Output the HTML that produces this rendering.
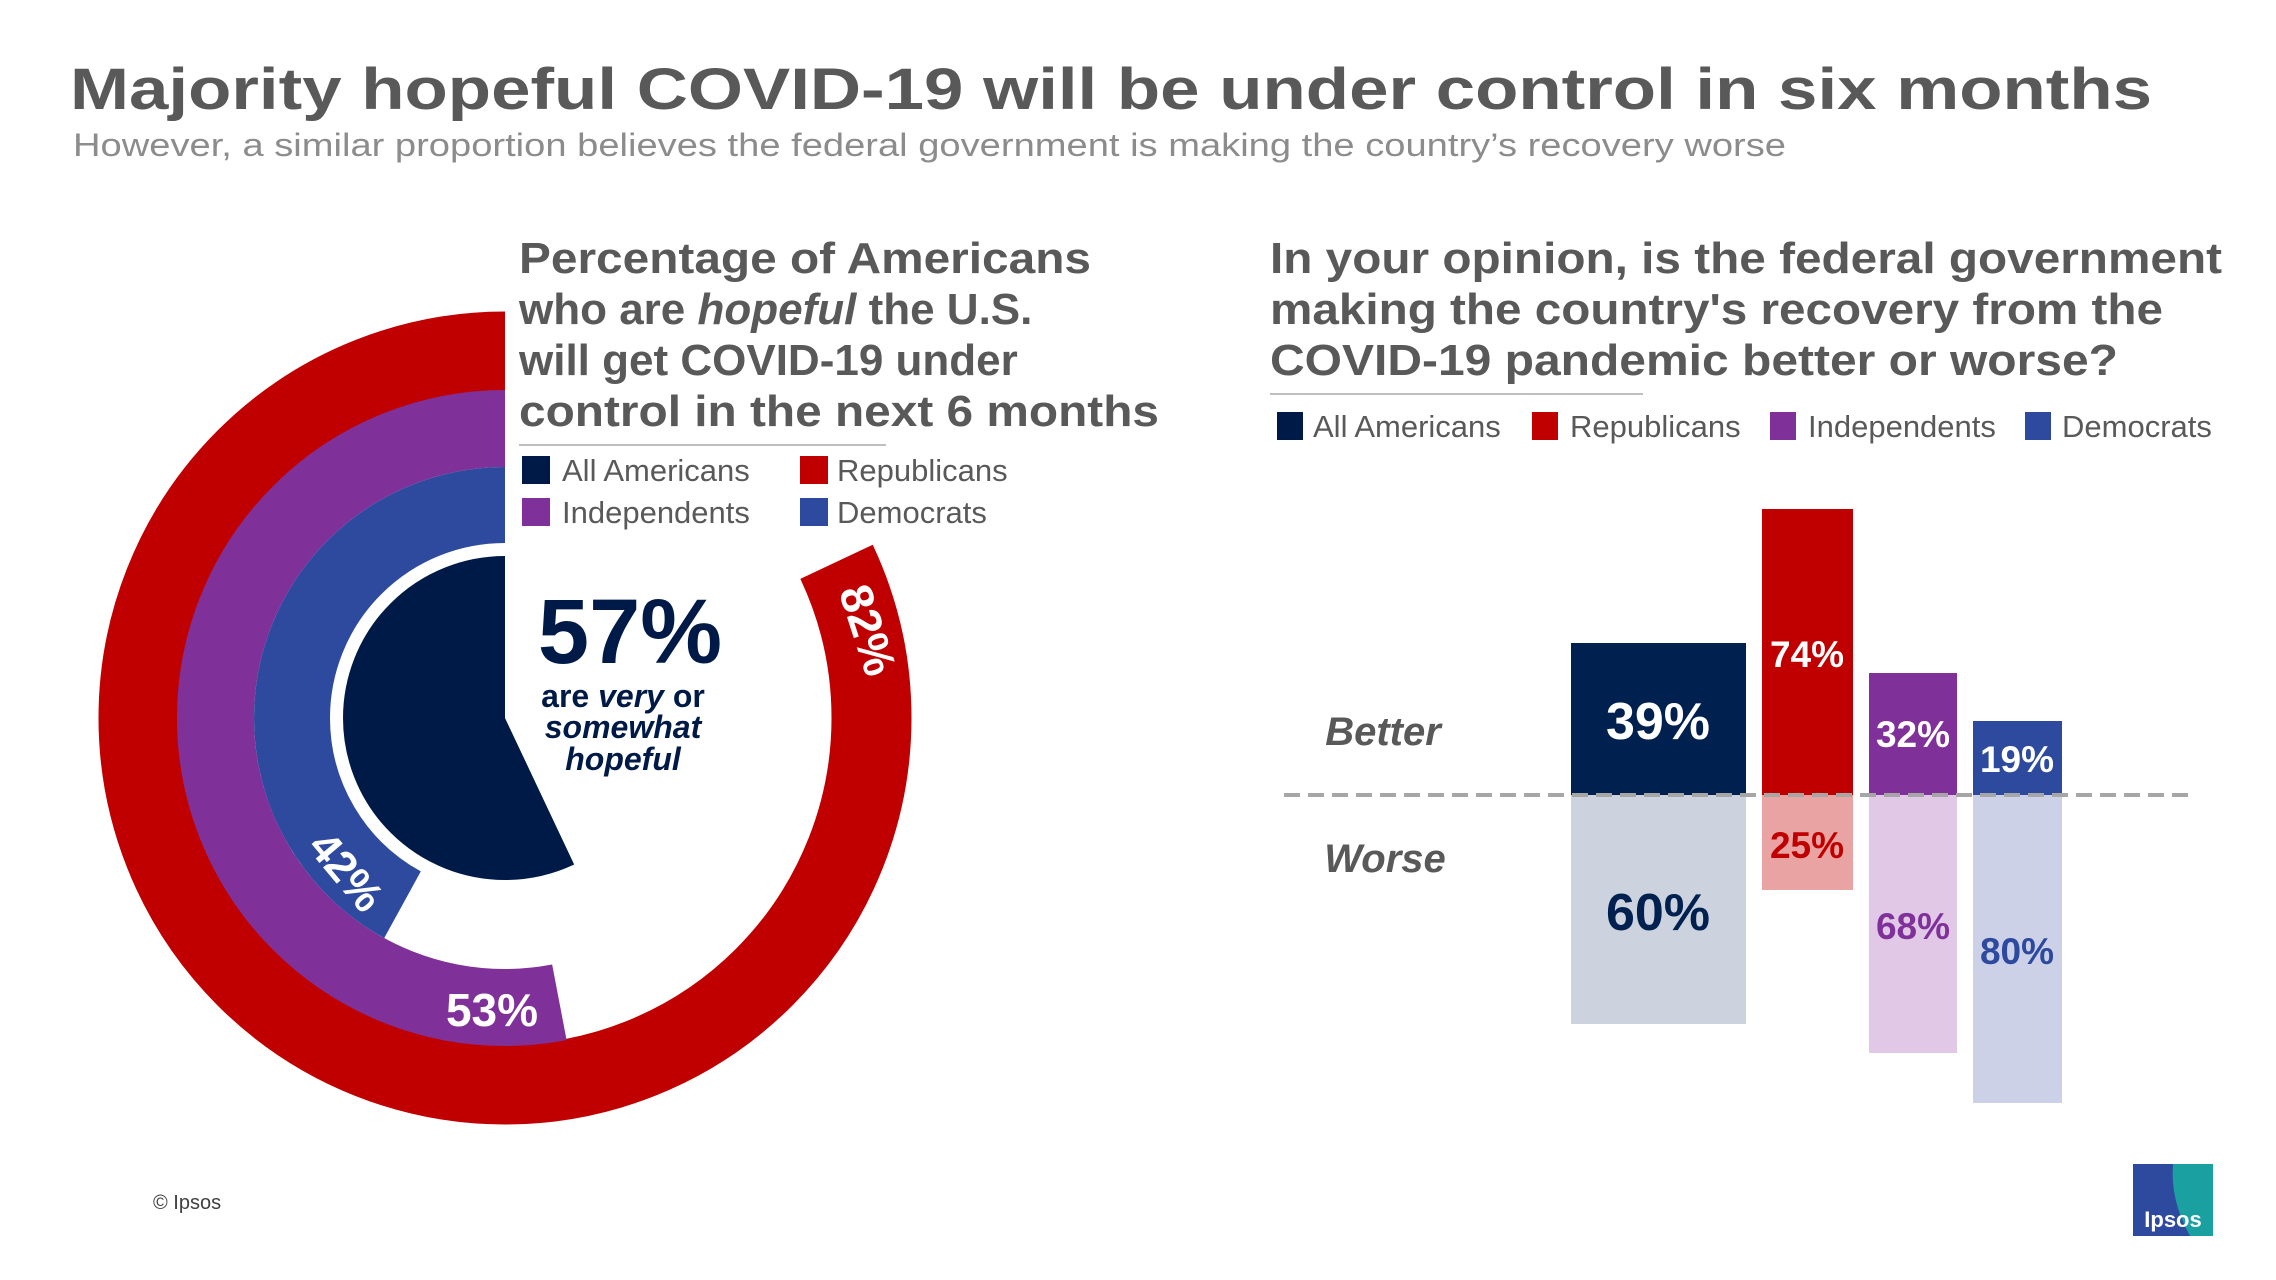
<!DOCTYPE html>
<html><head><meta charset="utf-8"><style>html,body{margin:0;padding:0;background:#fff}svg{display:block}</style></head>
<body>
<svg width="2276" height="1280" viewBox="0 0 2276 1280" xmlns="http://www.w3.org/2000/svg" font-family="Liberation Sans, Arial, sans-serif">
<text x="70" y="109" font-size="58" font-weight="bold" fill="#595959" textLength="2082" lengthAdjust="spacingAndGlyphs">Majority hopeful COVID-19 will be under control in six months</text>
<text x="73" y="156" font-size="32" fill="#8c8c8c" textLength="1713" lengthAdjust="spacingAndGlyphs">However, a similar proportion believes the federal government  is making  the country’s recovery worse</text>

<!-- Donut -->
<g transform="translate(505,718) rotate(-90) scale(1,-1)" fill="none">
<circle r="366.5" stroke="#c00000" stroke-width="80" stroke-dasharray="1888.3 3000"/>
<circle r="289.5" stroke="#7f3199" stroke-width="77" stroke-dasharray="964.1 3000"/>
<circle r="213" stroke="#2e4a9e" stroke-width="76" stroke-dasharray="562.1 3000"/>
<circle r="81" stroke="#fff" stroke-width="178" stroke-dasharray="0 0"/>
<circle r="81" stroke="#001a47" stroke-width="162" stroke-dasharray="290.1 3000"/>
</g>
<rect x="505" y="300" width="420" height="240" fill="#fff"/>
<text x="630" y="663" text-anchor="middle" font-size="92" font-weight="bold" fill="#001a47">57%</text>
<text x="623" y="707" text-anchor="middle" font-size="32" font-weight="bold" fill="#001a47">are <tspan font-style="italic">very</tspan> or</text>
<text x="623" y="738" text-anchor="middle" font-size="32" font-weight="bold" font-style="italic" fill="#001a47">somewhat</text>
<text x="623" y="770" text-anchor="middle" font-size="32" font-weight="bold" font-style="italic" fill="#001a47">hopeful</text>
<text transform="translate(868,630) rotate(72)" text-anchor="middle" dy="16" font-size="46" font-weight="bold" fill="#fff">82%</text>
<text transform="translate(347,871) rotate(50)" text-anchor="middle" dy="16" font-size="44" font-weight="bold" fill="#fff">42%</text>
<text x="492" y="1026" text-anchor="middle" font-size="46" font-weight="bold" fill="#fff">53%</text>

<!-- Left heading -->
<g font-size="44" font-weight="bold" fill="#595959">
<text x="519" y="273" textLength="572" lengthAdjust="spacingAndGlyphs">Percentage of Americans</text>
<text x="519" y="324">who are <tspan font-style="italic">hopeful</tspan> the U.S.</text>
<text x="519" y="375">will get COVID-19 under</text>
<text x="519" y="426" textLength="640" lengthAdjust="spacingAndGlyphs">control in the next 6 months</text>
</g>
<rect x="519" y="444" width="367" height="2" fill="#bfbfbf"/>
<g font-size="31" fill="#595959">
<rect x="522" y="456" width="28" height="28" fill="#001a47"/><text x="562" y="481">All Americans</text>
<rect x="800" y="456" width="28" height="28" fill="#c00000"/><text x="837" y="481">Republicans</text>
<rect x="522" y="498" width="28" height="28" fill="#7f3199"/><text x="562" y="523">Independents</text>
<rect x="800" y="498" width="28" height="28" fill="#2e4a9e"/><text x="837" y="523">Democrats</text>
</g>

<!-- Right heading -->
<g font-size="44" font-weight="bold" fill="#595959">
<text x="1270" y="273" textLength="952" lengthAdjust="spacingAndGlyphs">In your opinion, is the federal government</text>
<text x="1270" y="324" textLength="893" lengthAdjust="spacingAndGlyphs">making the country's recovery from the</text>
<text x="1270" y="375" textLength="848" lengthAdjust="spacingAndGlyphs">COVID-19 pandemic better or worse?</text>
</g>
<rect x="1270" y="393" width="373" height="2" fill="#bfbfbf"/>
<g font-size="31" fill="#595959">
<rect x="1277" y="412" width="26" height="28" fill="#001a47"/><text x="1313" y="437">All Americans</text>
<rect x="1532" y="412" width="26" height="28" fill="#c00000"/><text x="1570" y="437">Republicans</text>
<rect x="1770" y="412" width="26" height="28" fill="#7f3199"/><text x="1808" y="437">Independents</text>
<rect x="2025" y="412" width="26" height="28" fill="#2e4a9e"/><text x="2062" y="437">Democrats</text>
</g>

<!-- Bars -->
<rect x="1571" y="643" width="175" height="152" fill="#002050"/>
<rect x="1571" y="795" width="175" height="229" fill="#cdd3de"/>
<rect x="1762" y="509" width="91" height="286" fill="#c00000"/>
<rect x="1762" y="795" width="91" height="95" fill="#eaa3a3"/>
<rect x="1869" y="673" width="88" height="122" fill="#7f3199"/>
<rect x="1869" y="795" width="88" height="258" fill="#e0c8e6"/>
<rect x="1973" y="721" width="89" height="74" fill="#2e4a9e"/>
<rect x="1973" y="795" width="89" height="308" fill="#ccd1e8"/>
<line x1="1284" y1="795" x2="2189" y2="795" stroke="#a6a6a6" stroke-width="4" stroke-dasharray="16 8"/>
<g font-weight="bold" text-anchor="middle">
<text x="1658" y="739" font-size="52" fill="#fff">39%</text>
<text x="1807" y="667" font-size="37" fill="#fff">74%</text>
<text x="1913" y="747" font-size="37" fill="#fff">32%</text>
<text x="2017" y="772" font-size="37" fill="#fff">19%</text>
<text x="1658" y="930" font-size="52" fill="#002050">60%</text>
<text x="1807" y="858" font-size="37" fill="#c00000">25%</text>
<text x="1913" y="939" font-size="37" fill="#7f3199">68%</text>
<text x="2017" y="964" font-size="37" fill="#2e4a9e">80%</text>
<text x="1383" y="745" font-size="40" font-style="italic" fill="#595959">Better</text>
<text x="1385" y="872" font-size="40" font-style="italic" fill="#595959">Worse</text>
</g>

<text x="153" y="1209" font-size="20" fill="#404040">© Ipsos</text>
<rect x="2133" y="1164" width="80" height="72" fill="#2e4a9e"/>
<path d="M2173 1164 L2213 1164 L2213 1236 L2190 1236 Q2170 1200 2173 1164 Z" fill="#1aa0a0"/>
<text x="2173" y="1227" text-anchor="middle" font-size="22" font-weight="bold" fill="#fff">Ipsos</text>
</svg>
</body></html>
